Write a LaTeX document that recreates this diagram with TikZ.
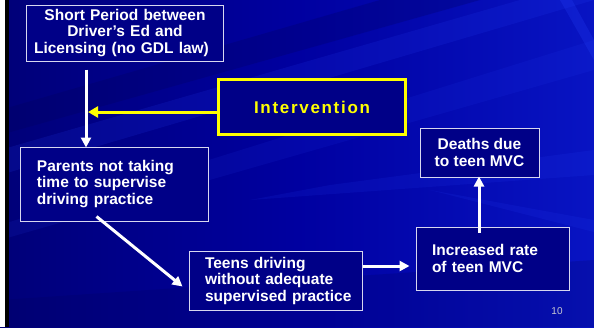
\documentclass[tikz,border=0pt]{standalone}
\usepackage{fontspec}
\setmainfont{Liberation Sans}
\newfontfamily\spacedfont[LetterSpace=10]{Liberation Sans}
\usetikzlibrary{arrows.meta,positioning}
\definecolor{bgleft}{RGB}{0,0,120}
\definecolor{bgmid}{RGB}{0,0,160}
\definecolor{bgright}{RGB}{8,20,195}
\definecolor{boxfill}{RGB}{0,0,135}
\definecolor{boxline}{RGB}{215,215,240}
\definecolor{streak}{RGB}{40,70,255}
\definecolor{dstreak}{RGB}{0,0,90}
\definecolor{ylw}{RGB}{255,255,0}
\definecolor{pgnum}{RGB}{200,200,210}
\tikzset{
  body/.style={font=\fontsize{15.5bp}{16.5bp}\selectfont\bfseries, text=white},
  wbox/.style={body, draw=boxline, line width=1bp, fill=boxfill, rectangle, inner ysep=0pt},
  lbox/.style={wbox, align=left, inner xsep=16bp},
  cbox/.style={wbox, align=center, inner xsep=4bp},
  ybox/.style={draw=ylw, line width=3bp, fill=boxfill, rectangle,
    font=\fontsize{17bp}{20bp}\selectfont\spacedfont\bfseries, text=ylw,
    minimum width=187bp, minimum height=55bp},
  warr/.style={draw=white, line width=3bp, -{Triangle[length=10bp,width=10bp]}},
  yarr/.style={draw=ylw, line width=3bp, -{Triangle[length=10bp,width=11bp]}},
}
\newcommand{\lsh}{\hspace*{7bp}}
\begin{document}
\begin{tikzpicture}[x=1bp,y=-1bp]
\useasboundingbox (0,0) rectangle (594,327);
% background
\shade[left color=bgleft, right color=bgright, middle color=bgmid] (0,0) rectangle (594,327);
\fill[streak, opacity=0.14] (594,0) -- (520,0) -- (0,150) -- (0,175) -- cycle;
\fill[streak, opacity=0.10] (594,40) -- (594,70) -- (0,240) -- (0,225) -- cycle;
\fill[dstreak, opacity=0.25] (480,0) -- (380,0) -- (0,110) -- (0,135) -- cycle;
\fill[streak, opacity=0.22] (560,0) -- (572,0) -- (594,40) -- (594,60) -- cycle;
\fill[streak, opacity=0.12] (594,150) -- (594,175) -- (250,200) -- (330,185) -- cycle;
\fill[dstreak, opacity=0.2] (594,260) -- (594,327) -- (0,327) -- (0,300) -- cycle;
\fill[streak, opacity=0.12] (594,220) -- (594,232) -- (430,190) -- cycle;
\fill[white] (0,0) rectangle (5,327);
\fill[black] (5,0) rectangle (9,327);

% boxes
\node[cbox, text width=188bp, minimum height=56bp] (short) at (125,33)
  {Short Period between\lsh\\Driver's Ed and\lsh\\Licensing (no GDL law)\lsh};
\node[lbox, text width=155bp, minimum height=74bp] (parents) at (114.5,184)
  {\mbox{Parents not taking}\\\mbox{time to supervise}\\\mbox{driving practice}};
\node[lbox, text width=141bp, minimum height=59bp] (teens) at (275.5,280.5)
  {\mbox{Teens driving}\\\mbox{without adequate}\\\mbox{supervised practice}};
\node[lbox, text width=121bp, minimum height=63bp] (incr) at (492.5,258.5)
  {\mbox{Increased rate}\\\mbox{of teen MVC}};
\node[cbox, minimum width=119bp, minimum height=49bp] (deaths) at (479.5,152.5)
  {Deaths due\\to teen MVC};
\node[ybox] (interv) at (312,107) {Intervention};
\node[font=\fontsize{10bp}{11bp}\selectfont, text=pgnum] (pg) at (557,311) {10};

% helper coordinates
\coordinate (cx1) at (86,0);
\coordinate (cy1) at (0,112);
\coordinate (cx2) at (479,0);
\coordinate (cy2) at (0,266);

% connectors
\draw[warr] ([yshift=-8bp]short.south -| cx1) -- ([yshift=-1bp]parents.north -| cx1);
\draw[yarr] (interv.west |- cy1) -- ([xshift=2bp]cx1 |- cy1);
\draw[warr] ([xshift=-18bp,yshift=5bp]parents.south) -- ([xshift=-6bp,yshift=-6bp]teens.west);
\draw[warr] (teens.east |- cy2) -- ([xshift=-6bp]incr.west |- cy2);
\draw[warr] ([yshift=-6bp]incr.north -| cx2) -- ([yshift=1bp]deaths.south -| cx2);
\end{tikzpicture}
\end{document}
